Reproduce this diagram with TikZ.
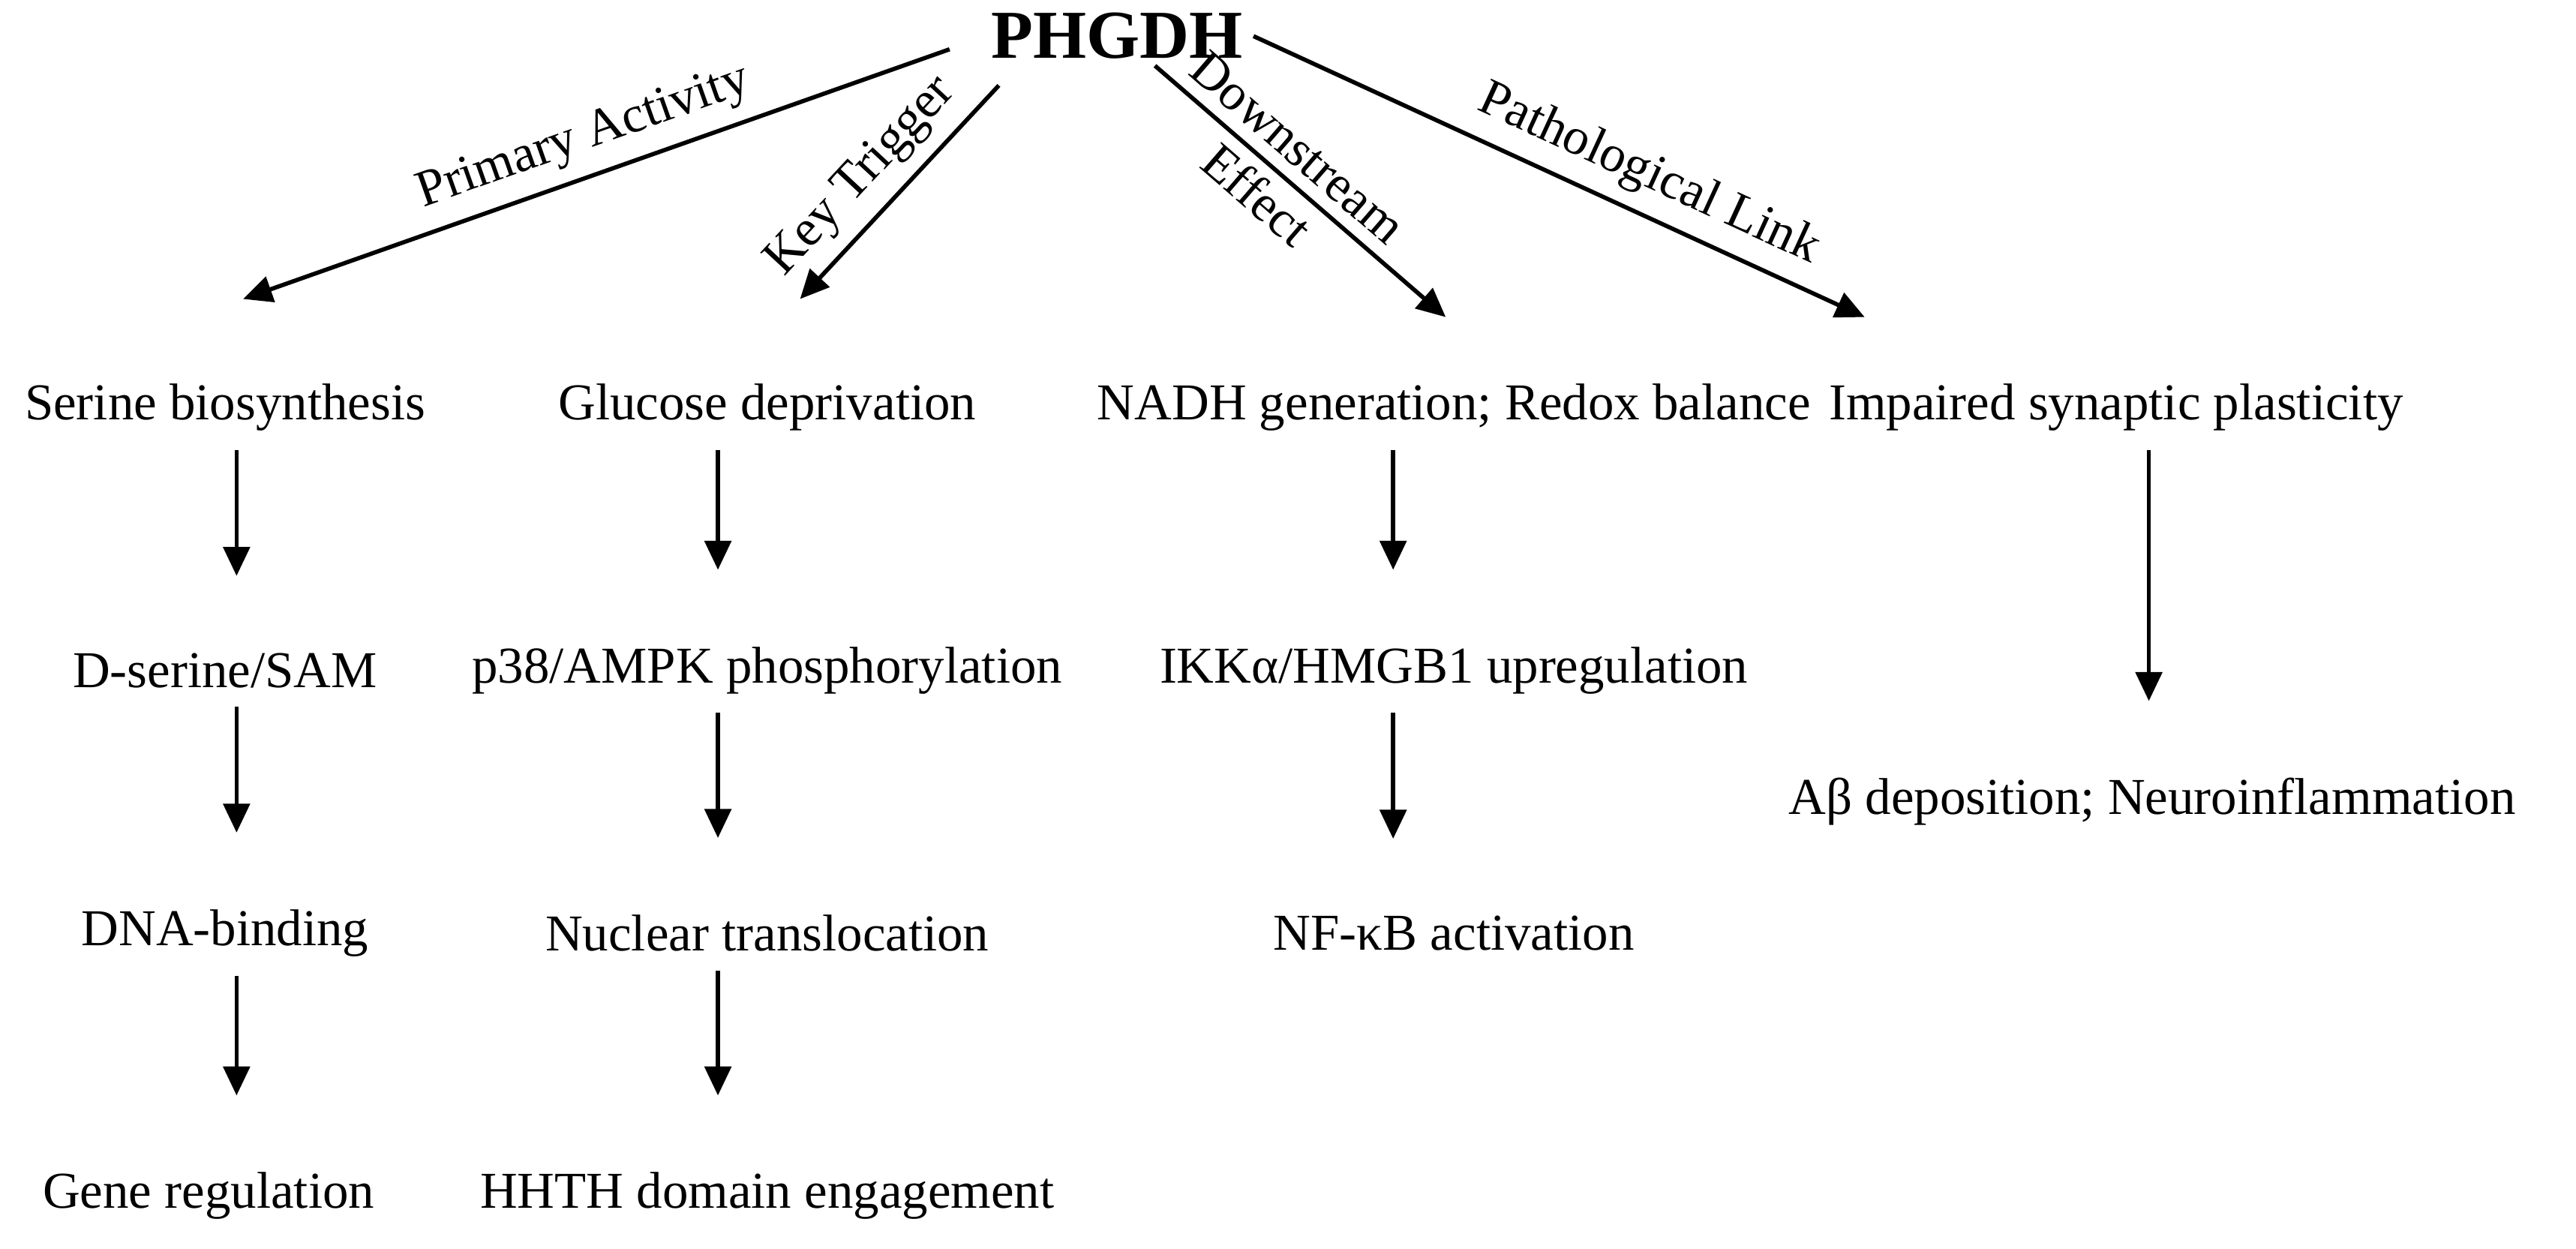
\documentclass[tikz,border=0pt]{standalone}
\usepackage{fontspec}
\setmainfont{Liberation Serif}
\usetikzlibrary{arrows.meta}

\begin{document}
\begin{tikzpicture}[x=0.0219cm,y=-0.0219cm,
        txt/.style={inner sep=1pt,font=\fontsize{19.6}{23}\selectfont},
        lbl/.style={inner sep=5pt,font=\fontsize{19.6}{21}\selectfont},
        arr/.style={line width=1.6pt,-{Triangle[length=11pt,width=10pt]}},
        down/.style={arr,shorten <=6pt,shorten >=28pt}]
        \useasboundingbox (0,0) rectangle (1568,760);

        % Root
        \node[inner sep=1pt,font=\fontsize{26}{30}\selectfont\bfseries] (top) at (680,22) {PHGDH};

        % First row
        \node[txt] (ser) at (137,248) {Serine biosynthesis};
        \node[txt] (glu) at (467,248) {Glucose deprivation};
        \node[txt] (nadh) at (885,248) {NADH generation; Redox balance};
        \node[txt] (imp) at (1288,248) {Impaired synaptic plasticity};

        % Second row
        \node[txt] (dser) at (137,408) {D-serine/SAM};
        \node[txt] (p38) at (467,408) {p38/AMPK phosphorylation};
        \node[txt] (ikk) at (885,408) {IKKα/HMGB1 upregulation};
        \node[txt] (abeta) at (1310,488) {Aβ deposition; Neuroinflammation};

        % Third row
        \node[txt] (dna) at (137,568) {DNA-binding};
        \node[txt] (nuc) at (467,568) {Nuclear translocation};
        \node[txt] (nfkb) at (885,568) {NF-κB activation};

        % Fourth row
        \node[txt] (gene) at (127,728) {Gene regulation};
        \node[txt] (hhth) at (467,728) {HHTH domain engagement};

        % Arrow tips of the branches
        \coordinate (t1) at (148,182);
        \coordinate (t2) at (487,182);
        \coordinate (t3) at (880,193);
        \coordinate (t4) at (1135,193);
        \coordinate (s1) at (578,30);
        \coordinate (s2) at (608,52);
        \coordinate (s3) at (703,40);
        \coordinate (s4) at (763,22);

        % Branches
        \draw[arr] (s1) -- (t1) node[lbl,midway,above,sloped] {Primary Activity};
        \draw[arr] (s2) -- (t2) node[lbl,pos=0.55,above,sloped] {Key Trigger};
        \draw[arr] (s3) -- (t3) node[lbl,pos=0.42,sloped,align=center,inner sep=0pt] {Downstream\\[3pt]Effect};
        \draw[arr] (s4) -- (t4) node[lbl,pos=0.62,above,sloped] {Pathological Link};

        % Chains
        \draw[down] (ser.south -| 144,0) -- (dser.north -| 144,0);
        \draw[down] (dser.south -| 144,0) -- (dna.north -| 144,0);
        \draw[down] (dna.south -| 144,0) -- (gene.north -| 144,0);
        \draw[down] (glu.south -| 437,0) -- (p38.north -| 437,0);
        \draw[down] (p38.south -| 437,0) -- (nuc.north -| 437,0);
        \draw[down] (nuc.south -| 437,0) -- (hhth.north -| 437,0);
        \draw[down] (nadh.south -| 848,0) -- (ikk.north -| 848,0);
        \draw[down] (ikk.south -| 848,0) -- (nfkb.north -| 848,0);
        \draw[down] (imp.south -| 1308,0) -- (abeta.north -| 1308,0);
    \end{tikzpicture}
\end{document}
